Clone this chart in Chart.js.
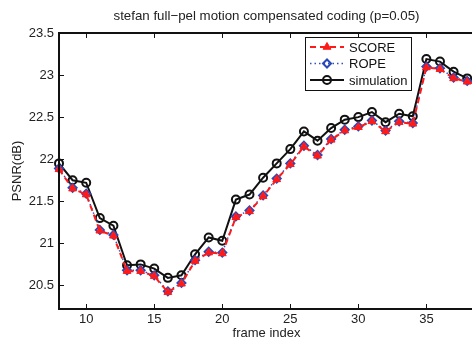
<!DOCTYPE html>
<html>
<head>
<meta charset="utf-8">
<script src="https://cdn.jsdelivr.net/npm/chart.js@4.4.1/dist/chart.umd.min.js"></script>
<style>
  html, body { margin: 0; padding: 0; background: #fff; overflow: hidden; }
  #wrap { width: 480px; height: 341px; }
</style>
</head>
<body>
<div id="wrap"><canvas id="psnrChart" width="480" height="341"></canvas></div>
<script>
// frame indices and PSNR values
const frames = [8, 9, 10, 11, 12, 13, 14, 15, 16, 17, 18, 19, 20, 21, 22, 23,
                24, 25, 26, 27, 28, 29, 30, 31, 32, 33, 34, 35, 36, 37, 38, 39];
const scoreVals = [21.88, 21.65, 21.58, 21.15, 21.09, 20.67, 20.67, 20.61, 20.42, 20.52, 20.79, 20.89, 20.88, 21.31, 21.38, 21.56,
                   21.76, 21.94, 22.15, 22.04, 22.23, 22.34, 22.38, 22.45, 22.33, 22.44, 22.42, 23.09, 23.07, 22.96, 22.92, 22.88];
const ropeVals = [21.89, 21.66, 21.59, 21.16, 21.10, 20.68, 20.68, 20.62, 20.43, 20.53, 20.80, 20.90, 20.89, 21.32, 21.39, 21.57,
                  21.77, 21.95, 22.16, 22.05, 22.24, 22.35, 22.39, 22.46, 22.34, 22.45, 22.43, 23.10, 23.08, 22.97, 22.93, 22.89];
const simVals = [21.95, 21.75, 21.72, 21.30, 21.21, 20.74, 20.75, 20.70, 20.59, 20.62, 20.87, 21.07, 21.03, 21.52, 21.58, 21.78,
                 21.95, 22.12, 22.33, 22.22, 22.37, 22.47, 22.50, 22.56, 22.44, 22.54, 22.51, 23.19, 23.16, 23.04, 22.96, 22.92];
const xTicks = [10, 15, 20, 25, 30, 35];
const yTicks = [20.5, 21, 21.5, 22, 22.5, 23, 23.5];

const FONT = "'Liberation Sans', Arial, sans-serif";
const toPoints = vals => vals.map((v, i) => ({ x: frames[i], y: v }));

// MATLAB style box: inward ticks, top/left/bottom lines, legend inside the axes
const axesBox = {
  id: 'axesBox',
  afterDraw(chart) {
    const { ctx, chartArea: a, scales: { x, y } } = chart;
    ctx.save();
    ctx.strokeStyle = '#111';
    ctx.lineWidth = 2;
    ctx.beginPath();
    ctx.moveTo(a.right, a.top); ctx.lineTo(a.left, a.top);
    ctx.lineTo(a.left, a.bottom); ctx.lineTo(a.right, a.bottom);
    ctx.stroke();
    ctx.lineWidth = 1;
    ctx.beginPath();
    x.ticks.forEach(t => {
      const px = Math.round(x.getPixelForValue(t.value)) + 0.5;
      ctx.moveTo(px, a.bottom); ctx.lineTo(px, a.bottom - 5);
      ctx.moveTo(px, a.top); ctx.lineTo(px, a.top + 5);
    });
    y.ticks.forEach(t => {
      const py = Math.round(y.getPixelForValue(t.value)) + 0.5;
      ctx.moveTo(a.left, py); ctx.lineTo(a.left + 5, py);
    });
    ctx.stroke();

    // legend
    const bx = 305, by = 37, bw = 106, bh = 53;
    ctx.fillStyle = '#fff';
    ctx.fillRect(bx, by, bw, bh);
    ctx.strokeStyle = '#111';
    ctx.lineWidth = 1;
    ctx.strokeRect(bx + 0.5, by + 0.5, bw, bh);
    ctx.font = '13px ' + FONT;
    ctx.textBaseline = 'middle';
    chart.data.datasets.forEach((ds, i) => {
      const ly = 47 + i * 16.5;
      ctx.save();
      ctx.strokeStyle = ds.borderColor;
      ctx.lineWidth = ds.borderWidth;
      ctx.setLineDash(ds.borderDash || []);
      ctx.beginPath();
      ctx.moveTo(310, ly); ctx.lineTo(344, ly);
      ctx.stroke();
      ctx.restore();
      ctx.save();
      ctx.fillStyle = ds.pointBackgroundColor;
      ctx.strokeStyle = ds.pointBorderColor;
      ctx.lineWidth = ds.pointBorderWidth;
      Chart.helpers.drawPoint(ctx, {
        pointStyle: ds.pointStyle, radius: ds.pointRadius,
        borderWidth: ds.pointBorderWidth, rotation: 0
      }, 327, ly);
      ctx.restore();
      ctx.fillStyle = '#111';
      ctx.fillText(ds.label, 349, ly + 1);
    });
    ctx.restore();
  }
};

new Chart(document.getElementById('psnrChart').getContext('2d'), {
  type: 'line',
  data: {
    datasets: [
      {
        label: 'SCORE',
        data: toPoints(scoreVals),
        borderColor: '#ff1a1a',
        borderWidth: 2,
        borderDash: [6, 4],
        pointStyle: 'triangle',
        pointRadius: 4.5,
        pointBackgroundColor: '#ff1a1a',
        pointBorderColor: '#ff1a1a',
        pointBorderWidth: 1
      },
      {
        label: 'ROPE',
        data: toPoints(ropeVals),
        borderColor: '#3050c0',
        borderWidth: 1.5,
        borderDash: [1.5, 3],
        pointStyle: 'rectRot',
        pointRadius: 4,
        pointBackgroundColor: 'rgba(0,0,0,0)',
        pointBorderColor: '#2a48b8',
        pointBorderWidth: 2
      },
      {
        label: 'simulation',
        data: toPoints(simVals),
        borderColor: '#111',
        borderWidth: 2,
        pointStyle: 'circle',
        pointRadius: 4,
        pointBackgroundColor: 'rgba(0,0,0,0)',
        pointBorderColor: '#111',
        pointBorderWidth: 2
      }
    ]
  },
  options: {
    responsive: false,
    animation: false,
    clip: false,
    layout: { padding: { left: 0, right: 4, top: 0, bottom: 0 } },
    plugins: {
      legend: { display: false },
      tooltip: { enabled: false },
      title: {
        display: true,
        fullSize: false,
        text: 'stefan full\u2212pel motion compensated coding (p=0.05)',
        color: '#222',
        font: { family: FONT, size: 13.3, weight: 'normal', lineHeight: 1.2 },
        padding: { top: 8, bottom: 9 }
      }
    },
    scales: {
      x: {
        type: 'linear',
        min: 8,
        max: 38.5,
        afterBuildTicks: s => { s.ticks = xTicks.map(v => ({ value: v })); },
        afterFit: s => { s.height = 32; },
        grid: { display: false, drawTicks: false },
        border: { display: false },
        ticks: { color: '#222', padding: 4, maxRotation: 0, font: { family: FONT, size: 13, lineHeight: 1 } },
        title: {
          display: true, text: 'frame index', color: '#222',
          font: { family: FONT, size: 13, lineHeight: 1 },
          padding: { top: 0, bottom: 1 }
        }
      },
      y: {
        min: 20.22,
        max: 23.5,
        afterBuildTicks: s => { s.ticks = yTicks.map(v => ({ value: v })); },
        afterFit: s => { s.width = 59; },
        grid: { display: false, drawTicks: false },
        border: { display: false },
        ticks: {
          color: '#222', padding: 5, font: { family: FONT, size: 13, lineHeight: 1 },
          callback: v => String(v)
        },
        title: {
          display: true, text: 'PSNR(dB)', color: '#222',
          font: { family: FONT, size: 13, lineHeight: 1 },
          padding: { top: 11, bottom: 5 }
        }
      }
    }
  },
  plugins: [axesBox]
});
</script>
</body>
</html>
